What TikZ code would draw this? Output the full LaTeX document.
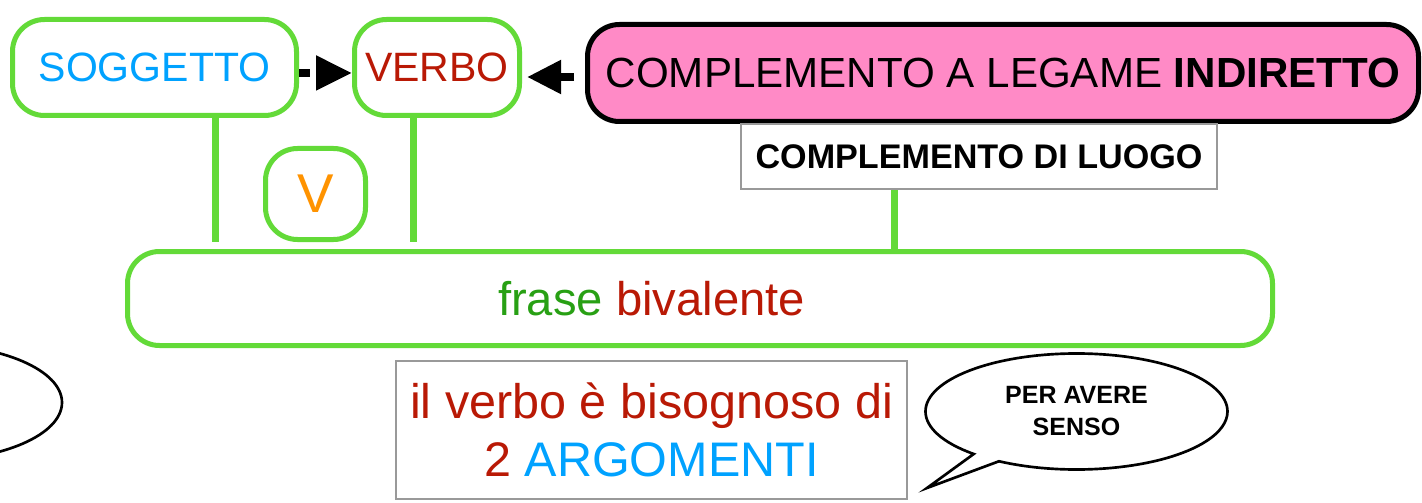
\documentclass[tikz,border=0pt]{standalone}
\usepackage{fontspec}
\setmainfont{Liberation Sans}
\usetikzlibrary{arrows.meta,shapes.geometric,shapes.callouts,backgrounds}
\definecolor{gborder}{RGB}{99,218,56}
\definecolor{greentxt}{RGB}{40,160,20}
\definecolor{redc}{RGB}{185,25,5}
\definecolor{cyanc}{RGB}{0,162,255}
\definecolor{orangec}{RGB}{255,147,0}
\definecolor{pinkc}{RGB}{255,138,198}
\definecolor{graybd}{RGB}{153,153,153}
\begin{document}
\begin{tikzpicture}[x=0.75pt,y=-0.75pt,
  gbox/.style={draw=gborder,line width=3.75pt,rounded corners=24pt,fill=white,inner sep=0pt,minimum height=72pt},
  graybox/.style={draw=graybd,line width=1.5pt,fill=white,inner sep=0pt},
  gline/.style={draw=gborder,line width=5.25pt},
  blk/.style={line width=6pt,black},
  topfont/.style={font=\fontsize{30.75pt}{36pt}\selectfont}]
\useasboundingbox (0,0) rectangle (1422,503);
\clip (0,0) rectangle (1422,503);

\node[gbox,minimum width=213pt,topfont,text=cyanc] (sogg) at (154.5,67.5) {SOGGETTO};
\node[gbox,minimum width=123.75pt,topfont,text=redc] (verbo) at (437,67.5) {VERBO};
\node[draw=black,line width=3.75pt,rounded corners=24pt,fill=pinkc,minimum width=623.25pt,minimum height=72.75pt,inner sep=0pt,font=\fontsize{31.6pt}{36pt}\selectfont] (pink) at (1003,73) {COMPLEMENTO A LEGAME \textbf{INDIRETTO}};
\node[graybox,minimum width=357pt,minimum height=48.75pt,font=\bfseries\fontsize{25.6pt}{30pt}\selectfont] (luogo) at (979,156.5) {COMPLEMENTO DI LUOGO};
\node[gbox,minimum width=75pt,minimum height=68.25pt,font=\fontsize{41pt}{48pt}\selectfont,text=orangec] (v) at (315.5,194) {V};
\node[gbox,minimum width=858.75pt,minimum height=70.5pt] (frase) at (700,298.5) {};
\node[font=\fontsize{35.4pt}{42pt}\selectfont,inner sep=0pt] (frasetxt) at (651.5,298.5) {\textcolor{greentxt}{frase} \textcolor{redc}{bivalente}};
\node[graybox,minimum width=383.25pt,minimum height=103.5pt,align=center,font=\fontsize{36.4pt}{43.5pt}\selectfont] (need) at (651.5,430) {\color{redc}il verbo è bisognoso di\\ \color{redc}2 \color{cyanc}ARGOMENTI};
\node[ellipse callout,draw,line width=2pt,fill=white,minimum width=226.5pt,minimum height=87pt,inner sep=0pt,align=center,callout absolute pointer={(927,488)},callout pointer arc=12,font=\bfseries\fontsize{18.75pt}{24pt}\selectfont] (bub) at (1076.5,411.5) {PER AVERE\\SENSO};
\node[ellipse,draw,line width=2pt,fill=white,minimum width=199.5pt,minimum height=87pt] (lell) at (-71,402.5) {};

\draw[blk,dash pattern=on 8.25pt off 30pt,-{Triangle[length=27pt,width=24.75pt]}] ([yshift=-4.1pt]sogg.east) -- ([yshift=-4.1pt]verbo.west);
\draw[blk,shorten <=8.25pt,shorten >=3.75pt,-{Triangle[length=25.5pt,width=24pt]}] ([yshift=-3pt]pink.west) -- ([yshift=-3pt]verbo.east |- pink.west);

\begin{scope}[on background layer]
  \coordinate (sl) at (215,242);
  \coordinate (vl) at (413,242);
  \coordinate (ll) at (894,0);
  \draw[gline] (sogg.center -| sl) -- (sl);
  \draw[gline] (verbo.center -| vl) -- (vl);
  \draw[gline] (pink.center -| ll) -- (frase.center -| ll);
\end{scope}
\end{tikzpicture}
\end{document}
